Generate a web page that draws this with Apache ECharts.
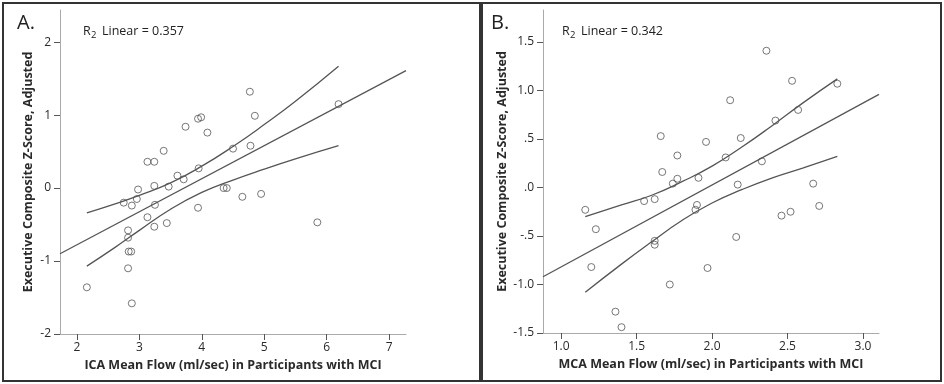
<!DOCTYPE html>
<html>
<head>
<meta charset="utf-8">
<script src="https://cdn.jsdelivr.net/npm/echarts@6/dist/echarts.min.js"></script>
<style>
  html, body { margin: 0; padding: 0; background: #fff; }
  #chart { width: 944px; height: 384px; }
</style>
</head>
<body>
<div id="chart"></div>
<script>
// Panel A: ICA mean flow vs executive composite
const icaX = [2.16, 2.75, 2.82, 2.82, 2.83, 2.87, 2.82, 2.88, 2.88, 2.96, 2.98, 3.13, 3.24, 3.13, 3.24, 3.25, 3.24, 3.39, 3.44,
  3.47, 3.61, 3.71, 3.74, 3.94, 3.99, 3.95, 3.94, 4.09, 4.35, 4.40, 4.50, 4.77, 4.78, 4.85, 4.65, 4.95, 5.85, 6.19];
const icaY = [-1.36, -0.20, -0.58, -0.68, -0.87, -0.87, -1.10, -1.58, -0.24, -0.15, -0.02, 0.36, 0.36, -0.40, 0.03, -0.23, -0.53, 0.51, -0.48,
  0.02, 0.17, 0.12, 0.84, 0.95, 0.97, 0.27, -0.27, 0.76, 0.00, 0.00, 0.54, 1.32, 0.58, 0.99, -0.12, -0.08, -0.47, 1.15];
const icaFitX = [1.73, 7.27];
const icaFitY = [-0.90, 1.61];
const icaBandX = [2.16, 2.6, 3.0, 3.5, 4.0, 4.5, 5.0, 5.5, 6.19];
const icaUpper = [-0.34, -0.22, -0.10, 0.07, 0.30, 0.57, 0.87, 1.19, 1.67];
const icaLower = [-1.07, -0.82, -0.58, -0.29, -0.06, 0.11, 0.26, 0.40, 0.58];
const icaXTicks = [2, 3, 4, 5, 6, 7];
const icaYTicks = [-2, -1, 0, 1, 2];

// Panel B: MCA mean flow vs executive composite
const mcaX = [1.16, 1.20, 1.23, 1.36, 1.40, 1.55, 1.62, 1.62, 1.62, 1.66, 1.67, 1.72, 1.74, 1.77, 1.77, 1.89, 1.90, 1.91,
  1.96, 1.97, 2.09, 2.12, 2.16, 2.17, 2.19, 2.33, 2.36, 2.42, 2.46, 2.52, 2.53, 2.57, 2.67, 2.71, 2.83];
const mcaY = [-0.23, -0.82, -0.43, -1.28, -1.44, -0.14, -0.12, -0.55, -0.59, 0.53, 0.16, -1.00, 0.04, 0.09, 0.33, -0.23, -0.18, 0.10,
  0.47, -0.83, 0.31, 0.90, -0.51, 0.03, 0.51, 0.27, 1.41, 0.69, -0.29, -0.25, 1.10, 0.80, 0.04, -0.19, 1.07];
const mcaFitX = [0.88, 3.106];
const mcaFitY = [-0.92, 0.96];
const mcaBandX = [1.16, 1.4, 1.6, 1.8, 2.0, 2.2, 2.4, 2.6, 2.83];
const mcaUpper = [-0.30, -0.18, -0.08, 0.06, 0.22, 0.42, 0.64, 0.87, 1.12];
const mcaLower = [-1.08, -0.79, -0.56, -0.34, -0.16, -0.02, 0.10, 0.20, 0.32];
const mcaXTicks = [1.0, 1.5, 2.0, 2.5, 3.0];
const mcaXLabels = ['1.0', '1.5', '2.0', '2.5', '3.0'];
const mcaYTicks = [-1.5, -1.0, -0.5, 0, 0.5, 1.0, 1.5];
const mcaYLabels = ['-1.5', '-1.0', '-.5', '.0', '.5', '1.0', '1.5'];

const yName = 'Executive Composite Z-Score, Adjusted';
const fontFamily = '"Open Sans", "DejaVu Sans", sans-serif';
const ink = '#555';

const zip = (xs, ys) => xs.map((x, i) => [x, ys[i]]);

function axis(kind, grid, min, max, ticks, labels, name) {
	const isX = kind === 'x';
	return {
		type: 'value',
		gridIndex: grid,
		min,
		max,
		name,
		nameLocation: 'middle',
		nameGap: isX ? 25 : 25,
		nameTextStyle: { fontFamily, fontWeight: 'bold', fontSize: 12.5, color: '#2a2a2a' },
		axisLine: { show: true, onZero: false, lineStyle: { color: '#aaa', width: 1 } },
		axisTick: { show: true, length: 6, customValues: ticks, lineStyle: { color: '#555' } },
		axisLabel: {
			customValues: ticks,
			margin: isX ? 8 : 9,
			fontFamily,
			fontSize: 12,
			color: '#2a2a2a',
			formatter: v => labels[ticks.findIndex(t => Math.abs(t - v) < 1e-6)] ?? '',
		},
		splitLine: { show: false },
	};
}

const line = (xi, data, smooth) => ({
	type: 'line',
	xAxisIndex: xi,
	yAxisIndex: xi,
	data,
	smooth,
	showSymbol: false,
	silent: true,
	lineStyle: { color: ink, width: 1.3 },
	animation: false,
});

const scatter = (xi, data) => ({
	type: 'scatter',
	xAxisIndex: xi,
	yAxisIndex: xi,
	data,
	symbol: 'circle',
	symbolSize: 7,
	itemStyle: { color: 'rgba(0,0,0,0)', borderColor: ink, borderWidth: 1 },
	animation: false,
});

function r2Text(x, value) {
	return [
		{ type: 'text', left: x, top: 25, style: { text: 'R', font: `12.5px ${fontFamily}`, fill: '#222' } },
		{ type: 'text', left: x + 8, top: 30, style: { text: '2', font: `9.5px ${fontFamily}`, fill: '#222' } },
		{ type: 'text', left: x + 19, top: 25, style: { text: 'Linear = ' + value, font: `12.5px ${fontFamily}`, fill: '#222' } },
	];
}

const chart = echarts.init(document.getElementById('chart'), null, { renderer: 'canvas' });

chart.setOption({
	backgroundColor: '#fff',
	animation: false,
	grid: [
		{ left: 60, top: 10, right: 538, bottom: 50 },
		{ left: 543, top: 10, right: 65, bottom: 51 },
	],
	xAxis: [
		axis('x', 0, 1.73, 7.27, icaXTicks, icaXTicks.map(String), 'ICA Mean Flow (ml/sec) in Participants with MCI'),
		axis('x', 1, 0.88, 3.106, mcaXTicks, mcaXLabels, 'MCA Mean Flow (ml/sec) in Participants with MCI'),
	],
	yAxis: [
		axis('y', 0, -2, 2.44, icaYTicks, icaYTicks.map(String), yName),
		axis('y', 1, -1.5, 1.83, mcaYTicks, mcaYLabels, yName),
	],
	series: [
		line(0, zip(icaFitX, icaFitY), false),
		line(0, zip(icaBandX, icaUpper), true),
		line(0, zip(icaBandX, icaLower), true),
		scatter(0, zip(icaX, icaY)),
		line(1, zip(mcaFitX, mcaFitY), false),
		line(1, zip(mcaBandX, mcaUpper), true),
		line(1, zip(mcaBandX, mcaLower), true),
		scatter(1, zip(mcaX, mcaY)),
	],
	graphic: [
		{ type: 'rect', shape: { x: 3, y: 3, width: 477, height: 378 }, style: { fill: 'none', stroke: '#333', lineWidth: 2 } },
		{ type: 'rect', shape: { x: 482, y: 3, width: 459, height: 378 }, style: { fill: 'none', stroke: '#333', lineWidth: 2 } },
		{ type: 'text', left: 17, top: 13, style: { text: 'A.', font: `20px ${fontFamily}`, fill: '#222' } },
		{ type: 'text', left: 491, top: 13, style: { text: 'B.', font: `20px ${fontFamily}`, fill: '#222' } },
		...r2Text(83, '0.357'),
		...r2Text(562, '0.342'),
	],
});
</script>
</body>
</html>
